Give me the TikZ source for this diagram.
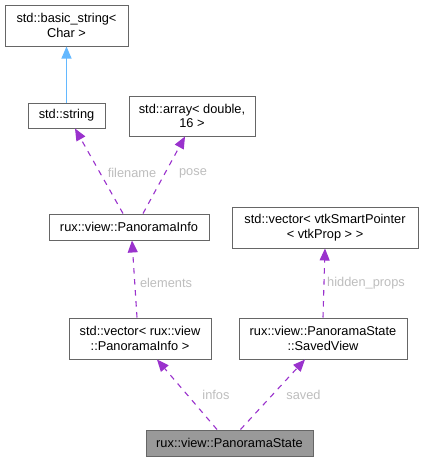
\documentclass[tikz,border=0pt]{standalone}
\usepackage{fontspec}
\setmainfont{Liberation Sans}
\usetikzlibrary{arrows.meta}
\definecolor{edgepurple}{HTML}{9A32CD}
\definecolor{edgeblue}{HTML}{63B8FF}
\definecolor{boxborder}{HTML}{666666}
\definecolor{labelgray}{HTML}{BEBEBE}
\definecolor{curfill}{HTML}{999999}
\begin{document}
\begin{tikzpicture}[x=1pt,y=-1pt,
  cls/.style={draw=boxborder, line width=1pt, fill=white, inner sep=0pt, align=center,
    font=\fontsize{12.8}{14.5}\selectfont},
  cur/.style={cls, fill=curfill},
  usage/.style={draw=edgepurple, line width=1.1pt, dash pattern=on 5.5pt off 5.5pt,
    -{Triangle[length=12pt,width=10pt]}},
  inherit/.style={draw=edgeblue, line width=1.1pt, -{Triangle[length=12pt,width=10pt]}},
  lbl/.style={text=labelgray, inner sep=0pt, font=\fontsize{12.8}{14.5}\selectfont}
]
\useasboundingbox (0,0) rectangle (424,461);
\fill[white] (0,0) rectangle (424,461);

\node[cls, minimum width=123pt, minimum height=41pt] (bstr) at (66.5,25.5) {std::basic\_string\textless\\Char \textgreater};
\node[cls, minimum width=77pt, minimum height=25pt] (str) at (66.5,115.5) {std::string};
\node[cls, minimum width=126pt, minimum height=40pt] (arr) at (192,116) {std::array\textless{} double,\\16 \textgreater};
\node[cls, minimum width=160pt, minimum height=26pt] (info) at (129,227) {rux::view::PanoramaInfo};
\node[cls, minimum width=186pt, minimum height=41pt] (vtk) at (325,227.5) {std::vector\textless{} vtkSmartPointer\\\textless{} vtkProp \textgreater{} \textgreater};
\node[cls, minimum width=142pt, minimum height=41pt] (vec) at (140,338.5) {std::vector\textless{} rux::view\\::PanoramaInfo \textgreater};
\node[cls, minimum width=168pt, minimum height=41pt] (saved) at (323,338.5) {rux::view::PanoramaState\\::SavedView};
\node[cur, minimum width=167pt, minimum height=26pt] (state) at (229.5,443) {rux::view::PanoramaState};

\draw[inherit] (str.north) -- (bstr.south);
\draw[usage] ([xshift=-6pt]info.north) -- ([xshift=8.5pt]str.south);
\draw[usage] ([xshift=14pt]info.north) -- ([xshift=-7pt]arr.south);
\draw[usage] ([xshift=-3pt]vec.north) -- ([xshift=3pt]info.south);
\draw[usage] (saved.north) -- (vtk.south);
\draw[usage] ([xshift=-12.5pt]state.north) -- ([xshift=17pt]vec.south);
\draw[usage] ([xshift=11pt]state.north) -- ([xshift=-18pt]saved.south);

\node[lbl] (lfilename) at (132,173) {filename};
\node[lbl] (lpose) at (193,173) {pose};
\node[lbl] (lelements) at (166,283) {elements};
\node[lbl] (lhidden) at (366,283) {hidden\_props};
\node[lbl] (linfos) at (216,395) {infos};
\node[lbl] (lsaved) at (303.5,395) {saved};
\end{tikzpicture}
\end{document}
